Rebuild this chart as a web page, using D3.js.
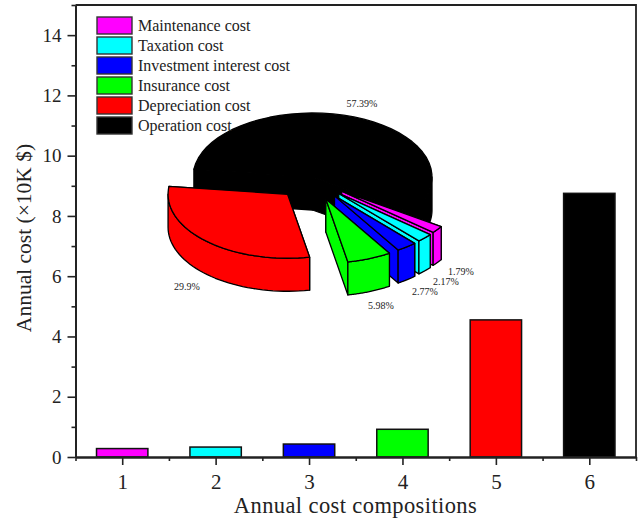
<!DOCTYPE html>
<html>
<head>
<meta charset="utf-8">
<script src="https://cdn.jsdelivr.net/npm/d3@7"></script>
<style>
  html, body { margin: 0; padding: 0; background: #fff; }
  svg { display: block; }
  text { font-family: "Liberation Serif", serif; fill: #222; }
</style>
</head>
<body>
<svg id="chart" width="641" height="518"></svg>
<script>
// === Data ===
const compositions = [1, 2, 3, 4, 5, 6];
const annualCosts = [0.28, 0.33, 0.43, 0.92, 4.55, 8.75];
const costNames = ["Maintenance cost", "Taxation cost", "Investment interest cost", "Insurance cost", "Depreciation cost", "Operation cost"];
const costColors = ["#ff00ff", "#00ffff", "#0000ff", "#00ff00", "#ff0000", "#000000"];
const costShares = [1.79, 2.17, 2.77, 5.98, 29.9, 57.39];
const shareLabels = ["1.79%", "2.17%", "2.77%", "5.98%", "29.9%", "57.39%"];
const yMajorTicks = [0, 2, 4, 6, 8, 10, 12, 14];
const yMinorTicks = [1, 3, 5, 7, 9, 11, 13, 15];
const xMinorTicks = [0.5, 1.5, 2.5, 3.5, 4.5, 5.5, 6.5];

const svg = d3.select("#chart");
const margin = { top: 5, right: 5, bottom: 61, left: 75.5 };
const innerWidth = 641 - margin.left - margin.right;
const innerHeight = 518 - margin.top - margin.bottom;
const axisColor = "#222";

const chartGroup = svg.append("g")
  .attr("transform", `translate(${margin.left}, ${margin.top})`);

const xScale = d3.scaleLinear().domain([0.5, 6.5]).range([0, innerWidth]);
const yScale = d3.scaleLinear().domain([0, 15]).range([innerHeight, 0]);
const barWidth = 0.55;

// === Bars ===
chartGroup.selectAll(".bar")
  .data(annualCosts)
  .enter()
  .append("rect")
  .attr("class", "bar")
  .attr("x", (d, i) => xScale(compositions[i] - barWidth / 2))
  .attr("y", d => yScale(d))
  .attr("width", xScale(barWidth) - xScale(0))
  .attr("height", d => innerHeight - yScale(d))
  .attr("fill", (d, i) => costColors[i])
  .attr("stroke", "#111")
  .attr("stroke-width", 1.5);

// === Axes ===
function styleAxis(g, size) {
  g.select(".domain").attr("stroke", axisColor).attr("stroke-width", 1.8);
  g.selectAll("line").attr("stroke", axisColor).attr("stroke-width", 1.6);
  g.selectAll("text").attr("font-size", size).attr("fill", axisColor);
}

chartGroup.append("g")
  .call(d3.axisLeft(yScale).tickValues(yMajorTicks).tickFormat(d3.format("d")).tickSize(8).tickPadding(6).tickSizeOuter(0))
  .attr("font-family", null)
  .call(g => styleAxis(g, 19));
chartGroup.append("g")
  .call(d3.axisLeft(yScale).tickValues(yMinorTicks).tickSize(4).tickSizeOuter(0))
  .call(g => g.selectAll("text").remove())
  .call(g => styleAxis(g, 19));

chartGroup.append("g")
  .attr("transform", `translate(0, ${innerHeight})`)
  .call(d3.axisBottom(xScale).tickValues(compositions).tickFormat(d3.format("d")).tickSize(8).tickPadding(9).tickSizeOuter(0))
  .attr("font-family", null)
  .call(g => styleAxis(g, 21));
chartGroup.append("g")
  .attr("transform", `translate(0, ${innerHeight})`)
  .call(d3.axisBottom(xScale).tickValues(xMinorTicks).tickSize(4).tickSizeOuter(0))
  .call(g => g.selectAll("text").remove())
  .call(g => styleAxis(g, 21));

// frame top + right
chartGroup.append("path")
  .attr("d", `M0,0H${innerWidth}V${innerHeight}`)
  .attr("fill", "none")
  .attr("stroke", axisColor)
  .attr("stroke-width", 1.8);

// === Titles ===
svg.append("text")
  .attr("x", 355.5)
  .attr("y", 513)
  .attr("text-anchor", "middle")
  .attr("font-size", 22.5)
  .attr("letter-spacing", 0.4)
  .text("Annual cost compositions");

svg.append("text")
  .attr("transform", "translate(31, 238) rotate(-90)")
  .attr("text-anchor", "middle")
  .attr("font-size", 21.5)
  .text("Annual cost (×10K $)");

// === 3D pie ===
const pieCenter = { x: 312.5, y: 177 };
const rx = 119.5;
const ry = 64;
const depth = 33;
const explodeX = 0.305;
const explodeY = 0.37;
const deg = Math.PI / 180;

// black first, then clockwise round to the red slice
const pieOrder = [5, 0, 1, 2, 3, 4];
const pieSlices = d3.pie()
  .sort(null)
  .startAngle(277 * deg)
  .endAngle(637 * deg)
  .value(i => costShares[i])(pieOrder);

const pieGroup = svg.append("g");
const outline = d3.line();

pieSlices.forEach(slice => {
  const i = slice.data;
  const exploded = i !== 5;
  const mid = (slice.startAngle + slice.endAngle) / 2 - Math.PI / 2;
  const cx = pieCenter.x + (exploded ? explodeX * rx * Math.cos(mid) : 0);
  const cy = pieCenter.y + (exploded ? explodeY * ry * Math.sin(mid) : 0);
  const point = (a, dz = 0) => [cx + rx * Math.cos(a - Math.PI / 2), cy + ry * Math.sin(a - Math.PI / 2) + dz];
  const arcPoints = (a0, a1, dz = 0) => d3.range(0, 41).map(k => point(a0 + (a1 - a0) * k / 40, dz));

  const face = pts => pieGroup.append("path")
    .attr("d", outline(pts) + "Z")
    .attr("fill", costColors[i])
    .attr("stroke", "#000")
    .attr("stroke-width", 1.3)
    .attr("stroke-linejoin", "round");

  const apex = [cx, cy];
  const apexLow = [cx, cy + depth];

  // radial walls
  [slice.startAngle, slice.endAngle].forEach(a => {
    face([apex, point(a), point(a, depth), apexLow]);
  });

  // outer wall, only the part that faces the viewer (pie angle 90..270 degrees, also one turn up)
  [[90, 270], [450, 630]].forEach(([lo, hi]) => {
    const a0 = Math.max(slice.startAngle, lo * deg);
    const a1 = Math.min(slice.endAngle, hi * deg);
    if (a1 > a0) face(arcPoints(a0, a1).concat(arcPoints(a0, a1, depth).reverse()));
  });

  // top face
  face([apex].concat(arcPoints(slice.startAngle, slice.endAngle)));
});

// === Percent labels ===
const labelPositions = [[461, 275], [446, 285], [425, 295], [381, 309], [187, 290], [362, 107]];
svg.selectAll(".share-label")
  .data(shareLabels)
  .enter()
  .append("text")
  .attr("class", "share-label")
  .attr("x", (d, i) => labelPositions[i][0])
  .attr("y", (d, i) => labelPositions[i][1])
  .attr("text-anchor", "middle")
  .attr("font-size", 10)
  .attr("fill", "#333")
  .text(d => d);

// === Legend ===
const legend = svg.append("g");
const legendRow = d3.scaleLinear().domain([0, 5]).range([17, 117]);

legend.selectAll("rect")
  .data(costNames)
  .enter()
  .append("rect")
  .attr("x", 97)
  .attr("y", (d, i) => legendRow(i))
  .attr("width", 35)
  .attr("height", 17)
  .attr("fill", (d, i) => costColors[i])
  .attr("stroke", "#333")
  .attr("stroke-width", 1.4);

legend.selectAll("text")
  .data(costNames)
  .enter()
  .append("text")
  .attr("x", 138)
  .attr("y", (d, i) => legendRow(i) + 14)
  .attr("font-size", 16)
  .attr("fill", "#222")
  .text(d => d);
</script>
</body>
</html>
